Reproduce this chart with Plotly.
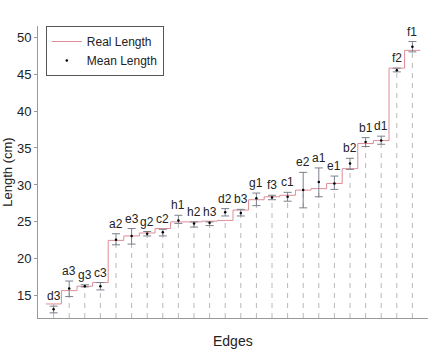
import plotly.graph_objects as go

edges = ["d3","a3","g3","c3","a2","e3","g2","c2","h1","h2","h3","d2",
         "b3","g1","f3","c1","e2","a1","e1","b2","b1","d1","f2","f1"]
real_len = [13.9,15.7,16.3,16.8,22.5,23.1,23.5,24.1,25.0,25.0,25.1,25.2,
            26.6,28.0,28.4,28.6,29.3,29.5,30.2,32.2,35.6,36.0,45.8,48.2]
mean_len = [13.2,16.0,16.3,16.3,22.6,23.1,23.4,23.6,25.2,24.8,24.9,26.3,
            26.2,28.2,28.3,28.4,29.3,30.4,30.2,32.9,35.8,36.0,45.5,48.7]
err_hi = [13.6,17.0,16.5,16.8,23.4,24.1,23.7,24.0,25.9,25.0,25.0,26.8,
          26.7,28.9,28.6,29.0,31.7,32.3,31.2,33.6,36.4,36.6,45.8,49.4]
err_lo = [12.7,14.9,16.2,15.8,21.9,22.0,23.1,23.1,24.8,24.3,24.5,25.8,
          25.8,27.2,28.0,27.8,26.9,28.4,29.4,32.1,35.2,35.5,45.3,48.0]

pos = list(range(1, len(edges) + 1))
FONT = "Liberation Sans, Arial, sans-serif"

fig = go.Figure()

# dashed vertical guide lines
for p, r in zip(pos, real_len):
    fig.add_trace(go.Scatter(x=[p, p], y=[12, r], mode="lines",
                             line=dict(color="#b8b8b8", width=1, dash="5px,5px"),
                             showlegend=False, hoverinfo="skip"))

# real length step
sx = [pos[0] - 0.5] + pos + [pos[-1] + 0.5]
sy = [real_len[0]] + real_len + [real_len[-1]]
fig.add_trace(go.Scatter(x=sx, y=sy, mode="lines", line_shape="hvh",
                         line=dict(color="rgb(222,140,150)", width=1),
                         name="Real Length"))

# mean + error bars
fig.add_trace(go.Scatter(
    x=pos, y=mean_len, mode="markers",
    marker=dict(color="black", size=2.5),
    error_y=dict(type="data", symmetric=False,
                 array=[h - m for h, m in zip(err_hi, mean_len)],
                 arrayminus=[m - l for m, l in zip(mean_len, err_lo)],
                 color="#7a808c", thickness=1, width=4),
    name="Mean Length"))

for p, e, h in zip(pos, edges, err_hi):
    fig.add_annotation(x=p, y=h, text=e, showarrow=False, yanchor="bottom",
                       yshift=1, font=dict(family=FONT, size=12, color="#222"))

fig.update_layout(
    width=430, height=350,
    margin=dict(l=38, r=2, t=26, b=32),
    paper_bgcolor="white", plot_bgcolor="white",
    font=dict(family=FONT, size=13, color="#222"),
    legend=dict(x=0.02, y=1.0, xanchor="left", yanchor="top",
                bordercolor="#555", borderwidth=1, bgcolor="white",
                font=dict(size=12), tracegroupgap=0, itemwidth=30),
    showlegend=True,
)
fig.update_xaxes(range=[0, 25], showgrid=False, zeroline=False,
                 showline=True, linecolor="#999", linewidth=1,
                 showticklabels=False, ticks="", title=None)
fig.update_yaxes(range=[12, 51.5], showgrid=False, zeroline=False,
                 showline=True, linecolor="#999", linewidth=1,
                 tickvals=[15,20,25,30,35,40,45,50], ticks="outside",
                 ticklen=3, tickcolor="#999",
                 tickfont=dict(size=13, color="#222"),
                 title=dict(text="Length (cm)", standoff=4,
                            font=dict(size=13)))
fig.add_annotation(text="Edges", xref="paper", yref="paper", x=0.5, y=0,
                   yshift=-23, yanchor="middle", showarrow=False,
                   font=dict(family=FONT, size=14, color="#222"))

fig.write_html("out.html")
